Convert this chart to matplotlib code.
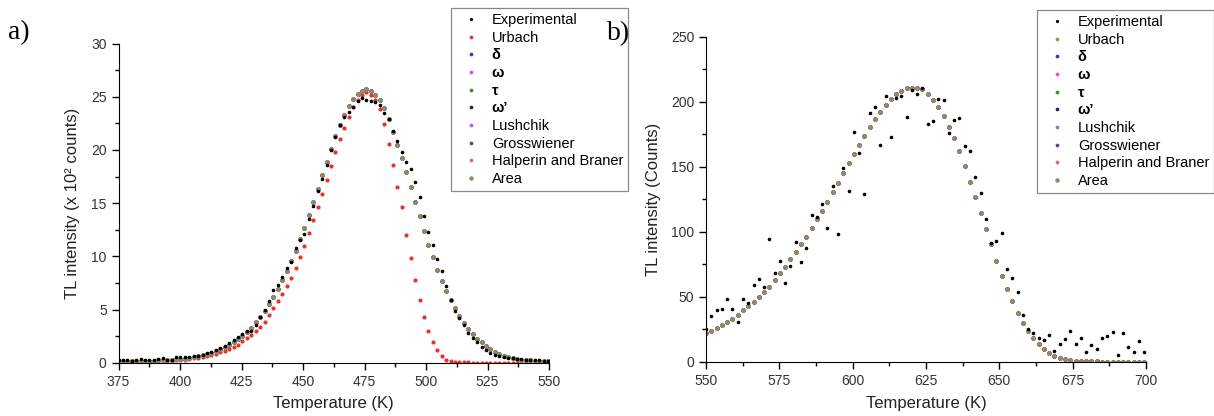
import matplotlib
matplotlib.use('Agg')
import matplotlib.pyplot as plt
from matplotlib.ticker import MultipleLocator

plt.rcParams['font.family'] = ['Liberation Sans', 'DejaVu Sans']

# ---- panel a) data (TL intensity in x10^2 counts) ----
temp_a = [375.0, 376.8, 378.6, 380.4, 382.2, 384.0, 385.8, 387.6, 389.4, 391.2,
          393.0, 394.8, 396.6, 398.4, 400.2, 402.0, 403.8, 405.6, 407.4, 409.2,
          411.0, 412.8, 414.6, 416.4, 418.2, 420.0, 421.8, 423.6, 425.4, 427.2,
          429.0, 430.8, 432.6, 434.4, 436.2, 438.0, 439.8, 441.6, 443.4, 445.2,
          447.0, 448.8, 450.6, 452.4, 454.2, 456.0, 457.8, 459.6, 461.4, 463.2,
          465.0, 466.8, 468.6, 470.4, 472.2, 474.0, 475.8, 477.6, 479.4, 481.2,
          483.0, 484.8, 486.6, 488.4, 490.2, 492.0, 493.8, 495.6, 497.4, 499.2,
          501.0, 502.8, 504.6, 506.4, 508.2, 510.0, 511.8, 513.6, 515.4, 517.2,
          519.0, 520.8, 522.6, 524.4, 526.2, 528.0, 529.8, 531.6, 533.4, 535.2,
          537.0, 538.8, 540.6, 542.4, 544.2, 546.0, 547.8, 549.6]

exp_a = [0.25, 0.22, 0.30, 0.20, 0.28, 0.35, 0.25, 0.30, 0.22, 0.33,
         0.45, 0.30, 0.25, 0.50, 0.55, 0.50, 0.55, 0.60, 0.62, 0.75,
         0.90, 1.05, 1.20, 1.35, 1.60, 1.85, 2.15, 2.40, 2.70, 2.95,
         2.95, 3.50, 4.30, 4.95, 5.80, 6.80, 7.30, 8.10, 8.90, 9.50,
         10.8, 11.5, 12.1, 13.5, 14.7, 16.1, 17.3, 18.6, 20.0, 21.2,
         22.3, 23.1, 23.6, 24.0, 24.6, 24.9, 24.7, 24.6, 24.5, 24.2,
         23.5, 22.9, 21.8, 20.8, 19.8, 18.9, 18.2, 17.0, 15.6, 13.8,
         12.3, 11.1, 9.7, 8.6, 7.2, 5.9, 4.9, 4.2, 3.5, 2.8,
         2.3, 1.95, 1.5, 1.15, 0.90, 0.75, 0.62, 0.55, 0.48, 0.42,
         0.38, 0.33, 0.30, 0.28, 0.25, 0.22, 0.20, 0.18]

urbach_a = [0.03, 0.03, 0.04, 0.04, 0.05, 0.06, 0.07, 0.08, 0.10, 0.12,
            0.14, 0.17, 0.20, 0.23, 0.26, 0.30, 0.35, 0.42, 0.48, 0.56,
            0.65, 0.74, 0.85, 0.98, 1.10, 1.25, 1.45, 1.70, 2.00, 2.30,
            2.65, 2.95, 3.35, 3.80, 4.45, 5.15, 5.80, 6.45, 7.20, 8.00,
            8.9, 9.9, 11.0, 12.2, 13.4, 14.6, 15.9, 17.2, 18.5, 19.8,
            21.0, 22.1, 23.1, 24.0, 24.7, 25.2, 25.4, 25.2, 24.7, 23.8,
            22.4, 20.6, 18.6, 16.5, 14.6, 12.0, 9.8, 7.8, 5.9, 4.3,
            2.95, 1.9, 1.15, 0.60, 0.30, 0.14, 0.07, 0.04, 0.02, 0.02,
            0.01, 0.01, 0.01, 0.01, 0.01, 0.01, 0.01, 0.01, 0.01, 0.01,
            0.01, 0.01, 0.01, 0.01, 0.01, 0.01, 0.01, 0.01]

# delta, omega, tau, omega', Lushchik, Grosswiener, H&B and Area all overlap
fit_a = [0.12, 0.12, 0.13, 0.14, 0.15, 0.16, 0.17, 0.19, 0.20, 0.22,
         0.24, 0.26, 0.28, 0.31, 0.34, 0.38, 0.44, 0.52, 0.60, 0.70,
         0.82, 0.95, 1.08, 1.25, 1.45, 1.68, 1.90, 2.20, 2.50, 2.90,
         3.30, 3.80, 4.30, 4.85, 5.50, 6.20, 6.90, 7.75, 8.60, 9.55,
         10.5, 11.6, 12.7, 13.9, 15.1, 16.3, 17.6, 18.85, 20.1, 21.3,
         22.35, 23.3, 24.1, 24.8, 25.25, 25.55, 25.7, 25.55, 25.2, 24.7,
         23.9, 22.9, 21.7, 20.5, 19.2, 17.9, 16.5, 15.1, 13.75, 12.4,
         11.1, 9.9, 8.75, 7.7, 6.75, 5.85, 5.1, 4.4, 3.75, 3.2,
         2.7, 2.25, 1.9, 1.55, 1.25, 1.0, 0.8, 0.65, 0.52, 0.42,
         0.34, 0.28, 0.24, 0.21, 0.19, 0.18, 0.17, 0.16]

# ---- panel b) data (TL intensity in counts) ----
temp_b = [550.0, 551.8, 553.6, 555.4, 557.2, 559.0, 560.8, 562.6, 564.4, 566.2,
          568.0, 569.8, 571.6, 573.4, 575.2, 577.0, 578.8, 580.6, 582.4, 584.2,
          586.0, 587.8, 589.6, 591.4, 593.2, 595.0, 596.8, 598.6, 600.4, 602.2,
          604.0, 605.8, 607.6, 609.4, 611.2, 613.0, 614.8, 616.6, 618.4, 620.2,
          622.0, 623.8, 625.6, 627.4, 629.2, 631.0, 632.8, 634.6, 636.4, 638.2,
          640.0, 641.8, 643.6, 645.4, 647.2, 649.0, 650.8, 652.6, 654.4, 656.2,
          658.0, 659.8, 661.6, 663.4, 665.2, 667.0, 668.8, 670.6, 672.4, 674.2,
          676.0, 677.8, 679.6, 681.4, 683.2, 685.0, 686.8, 688.6, 690.4, 692.2,
          694.0, 695.8, 697.6, 699.4]

exp_b = [24.9, 35.1, 39.8, 40.8, 48.0, 40.8, 30.8, 48.0, 44.9, 59.0,
         63.4, 57.2, 94.1, 68.0, 77.5, 60.3, 73.8, 92.1, 76.9, 87.2,
         113.1, 111.1, 121.1, 103.1, 135.2, 98.0, 149.2, 131.1, 176.9, 160.3,
         129.2, 191.1, 195.9, 166.9, 204.1, 173.1, 203.1, 204.1, 188.0, 209.0,
         205.9, 210.8, 183.1, 185.2, 202.1, 201.1, 175.9, 186.2, 187.2, 165.9,
         162.1, 142.3, 130.0, 109.8, 91.5, 93.1, 99.2, 71.3, 64.2, 53.8,
         35.9, 25.2, 21.8, 18.2, 16.7, 20.6, 8.5, 14.0, 17.5, 23.4,
         13.6, 18.2, 7.7, 12.8, 9.8, 18.5, 19.5, 22.6, 5.4, 21.8,
         11.6, 7.7, 15.7, 7.7]

# every model (Urbach included) coincides in panel b)
fit_b = [21.8, 23.8, 25.9, 28.2, 30.3, 32.8, 35.9, 39.8, 42.8, 46.2,
         50.0, 53.8, 57.7, 62.8, 68.0, 73.1, 78.8, 84.1, 90.3, 96.2,
         102.6, 109.5, 116.2, 123.1, 130.3, 137.7, 144.9, 152.6, 159.5, 166.7,
         173.6, 180.3, 186.7, 192.3, 197.7, 202.1, 205.9, 208.5, 210.3, 210.8,
         210.5, 209.5, 205.9, 201.3, 195.9, 189.0, 180.8, 171.8, 162.0, 150.5,
         138.5, 126.5, 114.2, 101.8, 90.3, 77.7, 66.2, 55.9, 46.7, 37.7,
         30.0, 23.8, 18.5, 13.6, 9.8, 6.7, 4.4, 2.8, 1.8, 1.3,
         0.9, 0.6, 0.4, 0.3, 0.2, 0.15, 0.1, 0.08, 0.06, 0.05,
         0.04, 0.03, 0.02, 0.02]

model_names = ['Urbach', 'δ', 'ω', 'τ', 'ω’', 'Lushchik', 'Grosswiener',
               'Halperin and Braner', 'Area']
colors_a = ['#e8332b', '#3b3bc4', '#f04ad0', '#3d8a3d', '#242466',
            '#a066f0', '#6a3a9a', '#e0607a', '#8f8a6e']
colors_b = ['#c47a58'] + colors_a[1:]

W, H = 1214, 416
fig = plt.figure(figsize=(W / 100, H / 100), dpi=100)
ax1 = fig.add_axes([118.5 / W, 1 - 362.7 / H, 430.5 / W, 319.2 / H])
ax2 = fig.add_axes([706 / W, 1 - 361.7 / H, 440 / W, 325 / H])


def draw_panel(ax, temp, exp, models, colors):
    ax.plot(temp, exp, 'o', ms=2.6, mew=0, color='black',
            label='Experimental', zorder=5)
    last = len(model_names) - 1
    for k, (name, vals, c) in enumerate(zip(model_names, models, colors)):
        size = 3.6 if k == last else 3.0
        ax.plot(temp, vals, 'o', ms=size, mew=0, color=c, label=name)


def style_axes(ax, xlim, ylim, xstep, ystep, ylabel, ylab_x):
    ax.set_xlim(xlim)
    ax.set_ylim(ylim)
    ax.spines[['top', 'right']].set_visible(False)
    ax.xaxis.set_major_locator(MultipleLocator(xstep))
    ax.xaxis.set_minor_locator(MultipleLocator(xstep / 2))
    ax.yaxis.set_major_locator(MultipleLocator(ystep))
    ax.yaxis.set_minor_locator(MultipleLocator(ystep / 2))
    ax.tick_params(which='both', direction='out', width=1, labelsize=10,
                   labelcolor='#333333')
    ax.tick_params(which='major', length=5)
    ax.tick_params(which='minor', length=3)
    ax.set_xlabel('Temperature (K)', fontsize=12, color='#222222')
    ax.set_ylabel(ylabel, fontsize=12, color='#222222')
    ax.xaxis.set_label_coords(0.5, -0.105)
    ax.yaxis.set_label_coords(ylab_x, 0.5)


def add_legend(ax, x0, y0):
    leg = ax.legend(loc='upper left', bbox_to_anchor=(x0 / W, 1 - y0 / H),
                    bbox_transform=fig.transFigure, fontsize=10.5, numpoints=1,
                    markerscale=0.9, fancybox=False, framealpha=1,
                    edgecolor='#888888', borderpad=0.35, handlelength=2.0,
                    handletextpad=0.45, labelspacing=0.25, borderaxespad=0)
    leg.get_frame().set_linewidth(0.9)
    for t in leg.get_texts()[2:6]:
        t.set_fontweight('bold')
    return leg


draw_panel(ax1, temp_a, exp_a, [urbach_a] + [fit_a] * 8, colors_a)
style_axes(ax1, (375, 550), (0, 30), 25, 5,
           'TL intensity (x 10² counts)', -0.09)
add_legend(ax1, 451, 8)

draw_panel(ax2, temp_b, exp_b, [fit_b] * 9, colors_b)
style_axes(ax2, (550, 700), (0, 250), 25, 50,
           'TL intensity (Counts)', -0.102)
add_legend(ax2, 1037, 10)

fig.text(8 / W, 1 - 33 / H, 'a)', family='Liberation Serif', fontsize=20,
         va='center')
fig.text(607 / W, 1 - 34 / H, 'b)', family='Liberation Serif', fontsize=20,
         va='center')

fig.savefig('out.png', dpi=100)
